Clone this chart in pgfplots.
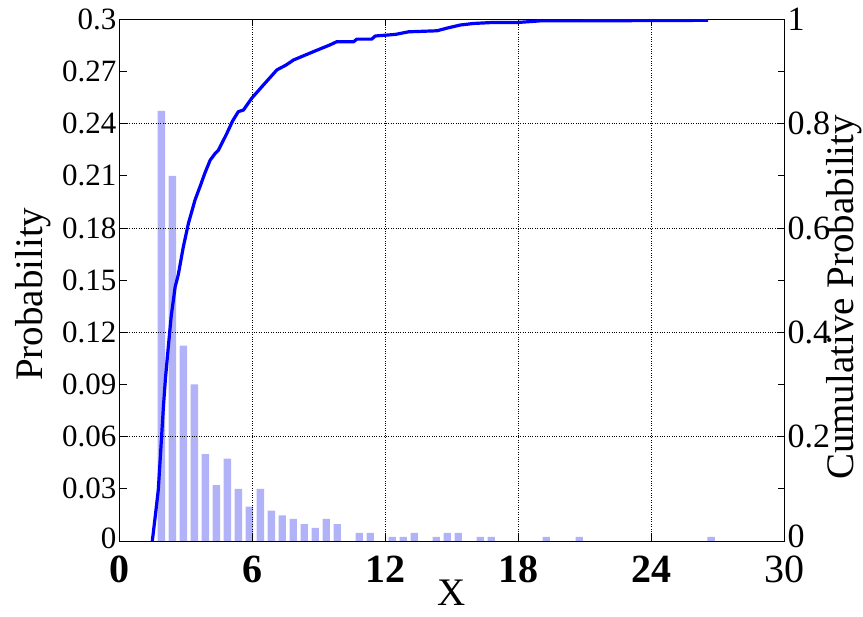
\documentclass[border=0pt]{standalone}
\usepackage{fontspec}
\setmainfont{Liberation Serif}
\usepackage{pgfplots}
\usepackage{pgfplotstable}
\pgfplotsset{compat=1.18}

\definecolor{barblue}{RGB}{178,178,248}
\definecolor{cdfblue}{RGB}{0,0,255}

% relative frequency of each bin (bin centre, probability)
\pgfplotstableread{
x p
1.890 0.2474
2.386 0.2099
2.882 0.1123
3.378 0.0901
3.874 0.0500
4.370 0.0322
4.866 0.0473
5.362 0.0300
5.858 0.0197
6.354 0.0300
6.850 0.0174
7.346 0.0148
7.842 0.0127
8.338 0.0097
8.834 0.0076
9.330 0.0127
9.826 0.0097
10.818 0.0047
11.314 0.0047
12.306 0.0024
12.802 0.0024
13.298 0.0047
14.290 0.0024
14.786 0.0047
15.282 0.0047
16.274 0.0024
16.770 0.0024
19.250 0.0024
20.738 0.0024
26.690 0.0024
}\histdata

% empirical cumulative distribution
\pgfplotstableread{
x F
1.48 0.000
1.62 0.050
1.75 0.098
1.87 0.180
1.98 0.257
2.07 0.310
2.16 0.353
2.33 0.430
2.51 0.487
2.65 0.510
2.88 0.564
3.11 0.609
3.41 0.654
3.63 0.679
3.85 0.705
4.09 0.730
4.30 0.742
4.46 0.749
4.84 0.781
5.10 0.805
5.36 0.823
5.59 0.826
5.97 0.849
6.49 0.874
7.10 0.903
7.50 0.912
7.85 0.922
8.30 0.930
8.75 0.938
9.50 0.951
9.80 0.957
10.56 0.957
10.71 0.962
11.38 0.962
11.54 0.968
12.44 0.971
13.04 0.976
14.32 0.978
14.77 0.983
15.37 0.989
15.97 0.992
16.88 0.994
18.00 0.994
18.98 0.997
20.80 0.997
26.55 0.998
}\cdfdata

\pgfplotsset{
  common/.style={
    scale only axis,
    width=665pt, height=521.7pt,
    xmin=0, xmax=30,
    tick align=inside,
    major tick length=7pt,
    minor tick length=7pt,
    axis line style={black, line width=0.9pt},
    tick style={black, line width=0.9pt},
    /pgf/number format/assume math mode=true,
    xticklabel style={font=\fontsize{40}{44}\selectfont, inner sep=1pt, yshift=-14pt},
    label style={font=\fontsize{39}{43}\selectfont},
  },
}

\begin{document}
\begin{tikzpicture}
% probability axis with the histogram
\begin{axis}[common,
  name=main,
  ymin=0, ymax=0.3,
  ytick={0,0.03,0.06,0.09,0.12,0.15,0.18,0.21,0.24,0.27,0.3},
  yticklabels={\raisebox{5pt}{0},0.03,0.06,0.09,0.12,0.15,0.18,0.21,0.24,0.27,0.3},
  ytick pos=left,
  xtick pos=both,
  xtick={0,6,12,18,24,30},
  xticklabels={\textbf{0},\textbf{6},\textbf{12},\textbf{18},\textbf{24},30},
  yticklabel style={font=\fontsize{31}{35}\selectfont, inner sep=1pt, xshift=-2pt},
  ylabel={Probability},
  ylabel style={at={(axis description cs:-0.130,0.473)}, anchor=center},
  xlabel={X},
  xlabel style={at={(axis description cs:0.5,-0.100)}, anchor=center, inner sep=1pt},
]
\addplot[ybar, bar width=0.33, fill=barblue, draw=none] table[x=x, y=p] {\histdata};
\end{axis}

% cumulative probability axis, drawn on top
\begin{axis}[common,
  ymin=0, ymax=1,
  ytick={0,0.2,0.4,0.6,0.8,1},
  yticklabels={\raisebox{10pt}{0},0.2,0.4,0.6,0.8,1},
  minor ytick={0.1,0.3,0.5,0.7,0.9},
  ytick pos=right,
  yticklabel pos=right,
  yticklabel style={font=\fontsize{34}{38}\selectfont, inner sep=1pt, xshift=2pt},
  xtick pos=both,
  xtick={0,6,12,18,24},
  xticklabels={},
  xmajorgrids, ymajorgrids,
  grid style={black, dotted, line width=0.7pt},
  ylabel={Cumulative Probability},
  ylabel style={at={(axis description cs:1.089,0.467)}, anchor=center, inner sep=1pt},
]
\addplot[cdfblue, line width=3.2pt, line join=round, no marks] table[x=x, y=F] {\cdfdata};
\end{axis}

\pgfresetboundingbox
\useasboundingbox ([shift={(-119.5pt,-75pt)}]main.south west) rectangle ([shift={(78.5pt,19.3pt)}]main.north east);
\end{tikzpicture}
\end{document}
